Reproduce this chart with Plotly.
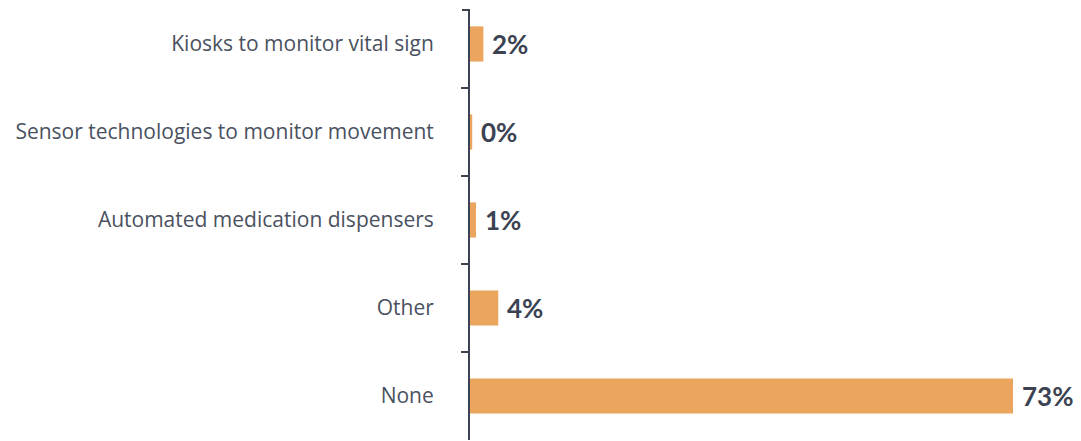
import plotly.graph_objects as go

categories = ["Kiosks to monitor vital sign", "Sensor technologies to monitor movement",
              "Automated medication dispensers", "Other", "None"]
values = [1.8, 0.3, 0.8, 3.8, 73]
labels = ["2%", "0%", "1%", "4%", "73%"]

BAR = "#EBA55E"
TXT = "#3B4252"

fig = go.Figure(go.Bar(
    y=categories, x=values, orientation="h",
    marker=dict(color=BAR, line=dict(width=0)),
    width=0.4, hoverinfo="skip",
))

for c, v, l in zip(categories, values, labels):
    fig.add_annotation(x=v, y=c, text=l, showarrow=False, xanchor="left",
                       xshift=7, font=dict(family="Lato", size=26, color=TXT, weight="bold"))

fig.add_shape(type="line", xref="paper", yref="paper", x0=-8/601, x1=0, y0=1, y1=1,
              line=dict(color=TXT, width=2))

fig.update_layout(
    width=1081, height=441,
    margin=dict(l=462, r=18, t=2, b=9, autoexpand=False),
    plot_bgcolor="white", paper_bgcolor="white",
    showlegend=False,
    xaxis=dict(range=[0, 73 * 601 / 543], visible=False, automargin=False),
    yaxis=dict(range=[4.5, -0.386], showline=True, linecolor=TXT, linewidth=2,
               automargin=False,
               ticks="outside", tickson="boundaries", ticklen=7, tickwidth=2, tickcolor=TXT,
               ticklabelstandoff=30, showgrid=False,
               tickfont=dict(family="Open Sans", size=21, color="#4A5160")),
)

fig.write_html("out.html")
